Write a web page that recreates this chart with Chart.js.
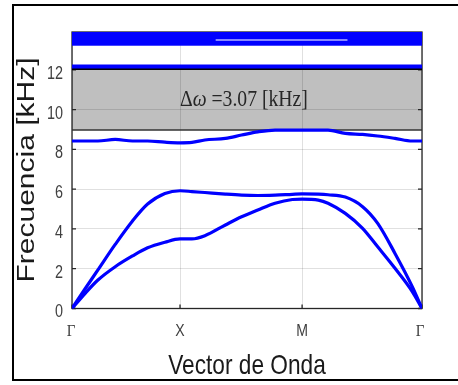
<!DOCTYPE html>
<html><head><meta charset="utf-8">
<script src="https://cdn.jsdelivr.net/npm/chart.js@4.4.1/dist/chart.umd.min.js"></script>
<style>html,body{margin:0;padding:0;background:#fff;}canvas{display:block;}</style>
</head><body>
<canvas id="c" width="458" height="385"></canvas>
<script>
// ---- data ----
const kTicks = [0, 1, 2.13, 3.24];
const kLabels = ['Γ', 'X', 'M', 'Γ'];
const yTicks = [0, 2, 4, 6, 8, 10, 12];
const kPath = [0,0.12,0.24,0.40,0.56,0.70,0.86,1.00,1.11,1.23,1.42,1.57,1.72,1.88,2.04,2.13,2.28,2.37,2.53,2.69,2.83,2.99,3.15,3.24];
const band1 = [0,0.75,1.43,2.10,2.64,3.05,3.33,3.50,3.50,3.66,4.20,4.61,4.95,5.29,5.48,5.50,5.45,5.29,4.78,4.03,3.10,2.02,0.85,0];
const band2 = [0,0.98,1.94,3.22,4.40,5.25,5.78,5.92,5.88,5.83,5.75,5.70,5.68,5.70,5.74,5.76,5.75,5.72,5.60,5.12,4.28,2.77,1.10,0];
const band3 = [8.42,8.42,8.42,8.50,8.42,8.42,8.36,8.33,8.35,8.47,8.55,8.72,8.88,8.97,8.97,8.97,8.97,8.97,8.80,8.75,8.67,8.55,8.42,8.42];
const band4 = [12.17, 12.17];
const topBandLow = [13.24, 13.24];
const topBandHigh = [13.9, 13.9];
const topGapK = [1.33, 2.55];
const topGapVal = [13.5, 13.5];
const gapLow = 8.97;
const gapHigh = 12.04;
const gapText = '=3.07';
const gapUnit = '[kHz]';
const yMax = 13.9;
const xTitle = 'Vector de Onda';
const yTitle = 'Frecuencia [kHz]';

const kEnds = [kTicks[0], kTicks[kTicks.length - 1]];
const pts = (xs, ys) => xs.map((x, i) => ({x, y: ys[i]}));
const BLUE = '#0000ff';

function ctext(ctx, s, x, y, font, color, align, base, sx) {
  ctx.save();
  ctx.translate(x, y);
  ctx.scale(sx, 1);
  ctx.font = font; ctx.fillStyle = color;
  ctx.textAlign = align; ctx.textBaseline = base;
  ctx.fillText(s, 0, 0);
  ctx.restore();
}

const custom = {
  id: 'custom',
  beforeDraw(chart) {
    const {ctx, chartArea: a, scales: {y}} = chart;
    const y1 = y.getPixelForValue(gapHigh), y0 = y.getPixelForValue(gapLow);
    ctx.save();
    ctx.fillStyle = '#bfbfbf';
    ctx.fillRect(a.left, y1, a.right - a.left, y0 - y1);
    ctx.restore();
  },
  beforeDatasetsDraw(chart) {
    const {ctx, chartArea: a, scales: {x, y}} = chart;
    ctx.save();
    ctx.strokeStyle = '#262626';
    ctx.lineWidth = 1.3;
    ctx.strokeRect(a.left, a.top, a.right - a.left, a.bottom - a.top);
    ctx.beginPath();
    yTicks.forEach(v => {
      const p = y.getPixelForValue(v);
      ctx.moveTo(a.left, p); ctx.lineTo(a.left + 4, p);
      ctx.moveTo(a.right, p); ctx.lineTo(a.right - 4, p);
    });
    kTicks.forEach(v => {
      const p = x.getPixelForValue(v);
      ctx.moveTo(p, a.bottom); ctx.lineTo(p, a.bottom - 4);
    });
    ctx.stroke();
    ctx.restore();
  },
  afterDraw(chart) {
    const {ctx, chartArea: a, scales: {x, y}} = chart;
    yTicks.forEach(v => {
      ctext(ctx, String(v), a.left - 9, y.getPixelForValue(v) + 4, '18px "Liberation Sans", Arial, sans-serif', '#404040', 'right', 'middle', 0.8);
    });
    kTicks.forEach((v, i) => {
      const lab = kLabels[i];
      const f = lab === 'Γ' ? '17px "Liberation Serif", "Times New Roman", serif' : '16px "Liberation Sans", Arial, sans-serif';
      ctext(ctx, lab, x.getPixelForValue(v) + (i === 0 ? -1 : (i === kTicks.length - 1 ? -2 : 0)), a.bottom + 23, f, '#404040', 'center', 'middle', 0.88);
    });
    ctext(ctx, xTitle, (a.left + a.right) / 2, a.bottom + 65, '28px "Liberation Sans", Arial, sans-serif', '#1a1a1a', 'center', 'alphabetic', 0.81);
    ctx.save();
    ctx.translate(27, 170);
    ctx.rotate(-Math.PI / 2);
    ctx.scale(1, 0.82);
    ctx.font = '30px "Liberation Sans", Arial, sans-serif';
    ctx.fillStyle = '#1a1a1a';
    ctx.textAlign = 'center'; ctx.textBaseline = 'middle';
    ctx.fillText(yTitle, 0, 0);
    ctx.restore();
    const sx = 0.82;
    let cx = x.getPixelForValue(kTicks[1]);
    const by = y.getPixelForValue((gapLow + gapHigh) / 2) + 6;
    const parts = [
      ['Δ', '24px "Liberation Serif", serif'],
      ['ω', 'italic 24px "Liberation Serif", serif'],
      [' ' + gapText + ' ' + gapUnit, '24px "Liberation Serif", serif']
    ];
    ctx.save();
    parts.forEach(([s, f]) => {
      ctx.font = f;
      const w = ctx.measureText(s).width * sx;
      ctext(ctx, s, cx, by, f, '#262626', 'left', 'alphabetic', sx);
      cx += w;
    });
    ctx.restore();
    ctx.save();
    ctx.strokeStyle = '#000';
    ctx.lineWidth = 2;
    ctx.strokeRect(13, 5, 470, 375);
    ctx.restore();
  }
};

const lineDs = (data, color, width) => ({
  data, borderColor: color, borderWidth: width, pointRadius: 0, fill: false,
  cubicInterpolationMode: 'monotone'
});

// datasets drawn last-index first, so earlier entries end up on top
new Chart(document.getElementById('c'), {
  type: 'line',
  data: {
    datasets: [
      lineDs(pts(topGapK, topGapVal), '#b4b4ff', 1.5),
      lineDs(pts(kPath, band1), BLUE, 3.2),
      lineDs(pts(kPath, band2), BLUE, 3.2),
      lineDs(pts(kPath, band3), BLUE, 3.2),
      lineDs(pts(kEnds, band4), BLUE, 4),
      lineDs(pts(kEnds, [gapHigh, gapHigh]), '#000000', 2),
      lineDs(pts(kEnds, [gapLow, gapLow]), '#333333', 1.5),
      {data: pts(kEnds, topBandLow), borderColor: BLUE, borderWidth: 1, pointRadius: 0, fill: false},
      {data: pts(kEnds, topBandHigh), borderColor: BLUE, borderWidth: 1, pointRadius: 0, fill: '-1', backgroundColor: BLUE}
    ]
  },
  options: {
    responsive: false,
    animation: false,
    layout: {padding: {left: 72, right: 36, top: 32, bottom: 76.5}},
    plugins: {legend: {display: false}, tooltip: {enabled: false}},
    scales: {
      x: {
        type: 'linear', min: kTicks[0], max: kTicks[kTicks.length - 1],
        afterBuildTicks: s => { s.ticks = kTicks.map(v => ({value: v})); },
        ticks: {display: false},
        grid: {color: 'rgba(0,0,0,0.12)', drawTicks: false, lineWidth: 1},
        border: {display: false}
      },
      y: {
        type: 'linear', min: 0, max: yMax,
        afterBuildTicks: s => { s.ticks = yTicks.map(v => ({value: v})); },
        ticks: {display: false},
        grid: {color: 'rgba(0,0,0,0.12)', drawTicks: false, lineWidth: 1},
        border: {display: false}
      }
    }
  },
  plugins: [custom]
});
</script>
</body></html>
